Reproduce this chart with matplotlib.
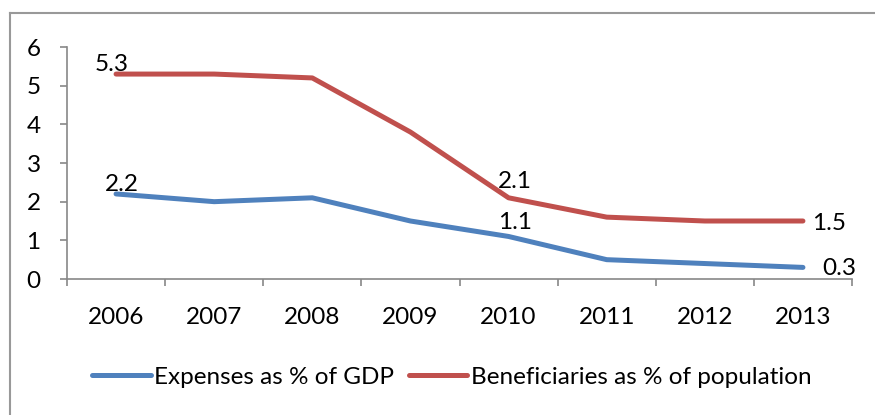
import matplotlib
matplotlib.use("Agg")
import matplotlib.pyplot as plt
from matplotlib.lines import Line2D

years = ["2006", "2007", "2008", "2009", "2010", "2011", "2012", "2013"]
expenses = [2.2, 2.0, 2.1, 1.5, 1.1, 0.5, 0.4, 0.3]
beneficiaries = [5.3, 5.3, 5.2, 3.8, 2.1, 1.6, 1.5, 1.5]
y_ticks = [0, 1, 2, 3, 4, 5, 6]

# labelled points: index -> offset in px
exp_labels = {0: (6, 9), 4: (6, 14), 7: (36, -1)}
ben_labels = {0: (-4, 10), 4: (6, 16), 7: (26, -2)}

plt.rcParams['font.family'] = ['Lato', 'DejaVu Sans']
FS = 17.5
blue = "#4F81BD"
red = "#C0504D"
grey = "#888888"

W, H = 875, 415
fig = plt.figure(figsize=(W / 100, H / 100), dpi=100)
ax = fig.add_axes([67 / W, 1 - 279 / H, (852 - 67) / W, (279 - 47) / H])

x = list(range(len(years)))
ax.plot(x, expenses, color=blue, lw=3.6, solid_capstyle='round', solid_joinstyle='round',
        label="Expenses as % of GDP")
ax.plot(x, beneficiaries, color=red, lw=3.6, solid_capstyle='round', solid_joinstyle='round',
        label="Beneficiaries as % of population")

px = 0.72
for series, labels in ((expenses, exp_labels), (beneficiaries, ben_labels)):
    for i, (dx, dy) in labels.items():
        ax.annotate(f"{series[i]:.1f}", (x[i], series[i]), xytext=(dx * px, dy * px),
                    textcoords='offset points', ha='center', va='center', fontsize=FS)

ax.set_xlim(-0.5, len(years) - 0.5)
ax.set_ylim(0, 6)
ax.set_yticks(y_ticks)
ax.set_yticklabels([str(v) for v in y_ticks], fontsize=FS)
ax.set_xticks([i + 0.5 for i in range(-1, len(years))])
ax.set_xticklabels([])
ax.set_xticks(x, minor=True)
ax.set_xticklabels(years, minor=True, fontsize=FS)
ax.tick_params(axis='x', which='major', length=5, color=grey, width=1.2, direction='out')
ax.tick_params(axis='x', which='minor', length=0, pad=20)
ax.tick_params(axis='y', length=5, color=grey, width=1.2, pad=14)
for s in ('top', 'right'):
    ax.spines[s].set_visible(False)
for s in ('left', 'bottom'):
    ax.spines[s].set_color(grey)
    ax.spines[s].set_linewidth(1.2)

leg = fig.legend(loc='center', bbox_to_anchor=(452 / W, 1 - 377 / H), ncol=2, frameon=False,
                 fontsize=FS, handlelength=2.4, handletextpad=0.15, columnspacing=0.6)
for h in leg.get_lines():
    h.set_linewidth(3.6)
    h.set_solid_capstyle('round')

# outer chart border
fig.add_artist(Line2D([10 / W, 10 / W], [0, 1 - 13 / H], color="#999999", lw=1.5))
fig.add_artist(Line2D([10 / W, 1], [1 - 13 / H, 1 - 13 / H], color="#999999", lw=1.5))

fig.savefig("out.png", dpi=100)
